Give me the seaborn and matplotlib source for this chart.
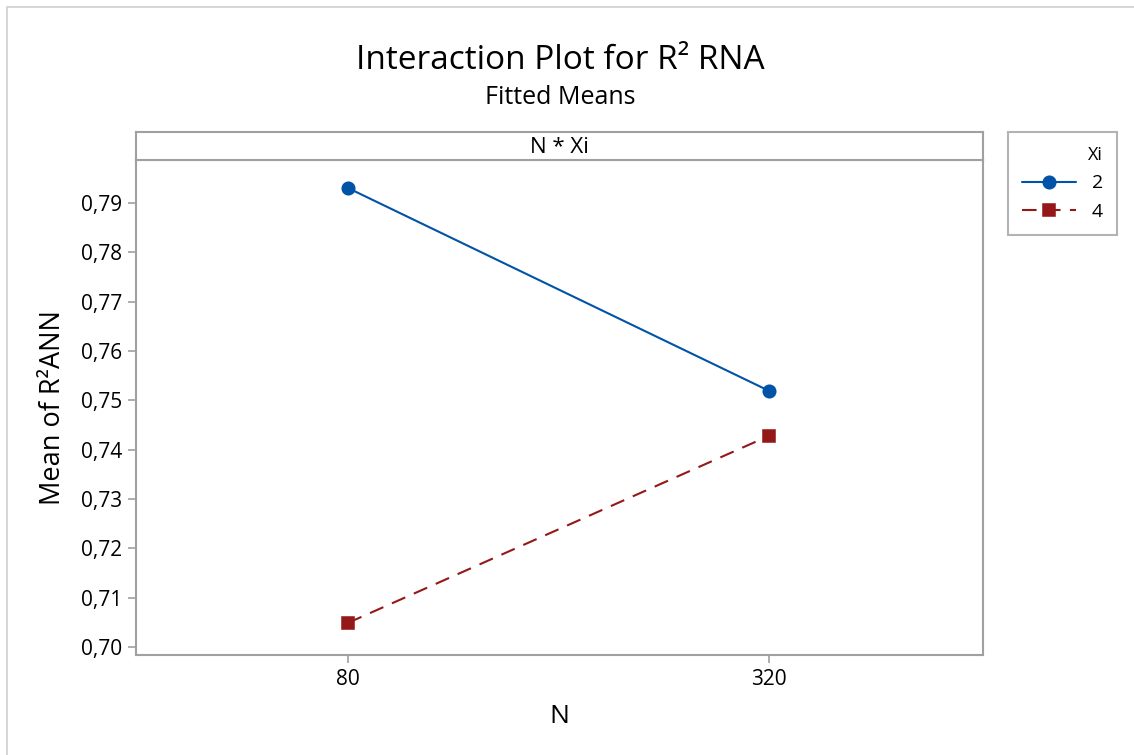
import pandas as pd
import matplotlib.pyplot as plt
import seaborn as sns
from matplotlib.patches import Rectangle

# fitted means
n_levels = ['80', '320']
xi_levels = ['2', '4']
mean_xi2 = [0.7930, 0.7519]
mean_xi4 = [0.7049, 0.7428]
y_ticks = [0.70, 0.71, 0.72, 0.73, 0.74, 0.75, 0.76, 0.77, 0.78, 0.79]

df = pd.DataFrame({
    'N': n_levels + n_levels,
    'Xi': [xi_levels[0]] * 2 + [xi_levels[1]] * 2,
    'Mean': mean_xi2 + mean_xi4,
})

sns.set_style('white')
plt.rcParams['font.family'] = ['Open Sans', 'DejaVu Sans']
plt.rcParams['text.color'] = 'black'
plt.rcParams['axes.labelcolor'] = 'black'
plt.rcParams['xtick.color'] = 'black'
plt.rcParams['ytick.color'] = 'black'

grey = '#a0a0a0'
fig = plt.figure(figsize=(11.34, 7.55), dpi=100)
fig.patches.append(Rectangle((7 / 1134, -0.1), 1.2, 1.1 - 7 / 755, transform=fig.transFigure,
                             fill=False, edgecolor='#d0d0d0', linewidth=1.2))

ax = fig.add_axes([0.1199, 0.1325, 0.7469, 0.6556])
sns.pointplot(data=df, x='N', y='Mean', hue='Xi', order=n_levels, hue_order=xi_levels,
              palette=['#0053a6', '#951818'], markers=['o', 's'], linestyles=['-', (0, (7, 4.5))],
              markersize=9, linewidth=1.5, ax=ax)

ax.set_xlim(-0.504, 1.508)
ax.set_ylim(0.69838, 0.7987)
ax.set_yticks(y_ticks)
ax.set_yticklabels([f'{v:.2f}'.replace('.', ',') for v in y_ticks])
ax.tick_params(axis='both', direction='out', length=6, width=1.2, color=grey,
               labelcolor='black', labelsize=15, pad=4, bottom=True, left=True)
for s in ax.spines.values():
    s.set_color(grey)
    s.set_linewidth(1.5)
ax.set_xlabel('N', fontsize=19, labelpad=10)
ax.set_ylabel('Mean of R²ANN', fontsize=19.5, labelpad=10)

handles, labels = ax.get_legend_handles_labels()
ax.get_legend().remove()

# facet strip
strip = fig.add_axes([0.1199, 0.7881, 0.7469, 0.0371])
strip.set_xticks([])
strip.set_yticks([])
for s in strip.spines.values():
    s.set_color(grey)
    s.set_linewidth(1.5)
strip.text(0.5, 0.45, 'N * Xi', ha='center', va='center', fontsize=16, transform=strip.transAxes)

fig.text(0.494, 0.92, 'Interaction Plot for R² RNA', ha='center', va='center', fontsize=24)
fig.text(0.494, 0.871, 'Fitted Means', ha='center', va='center', fontsize=18)

leg = fig.legend(handles, labels, title='Xi', loc='upper left', bbox_to_anchor=(0.889, 0.825),
                 frameon=True, fancybox=False, edgecolor=grey, fontsize=14, title_fontsize=13,
                 alignment='right', handlelength=2.8, borderpad=0.7, labelspacing=0.55,
                 borderaxespad=0)
leg.get_frame().set_linewidth(1.5)

plt.savefig('out.png', dpi=100)
